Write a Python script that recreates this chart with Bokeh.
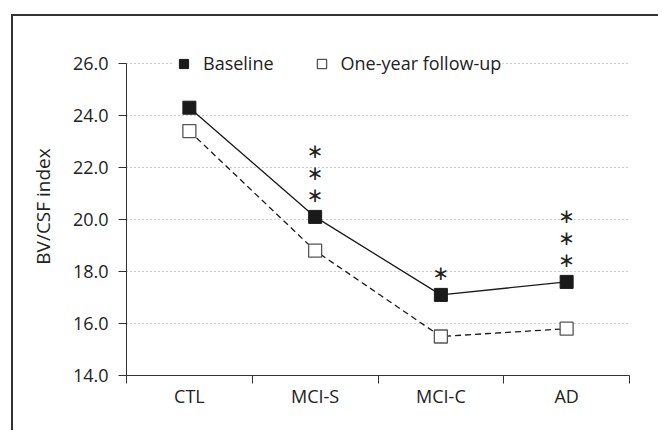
from bokeh.plotting import figure
from bokeh.models import (ColumnDataSource, FixedTicker, PrintfTickFormatter,
                          Legend, LegendItem, Range1d)
from bokeh.core.properties import value
from bokeh.embed import file_html
from bokeh.resources import INLINE

categories = ["CTL", "MCI-S", "MCI-C", "AD"]
baseline = [24.3, 20.1, 17.1, 17.6]
followup = [23.4, 18.8, 15.5, 15.8]
significance = [0, 3, 1, 3]  # number of asterisks above baseline marker
y_ticks = [14, 16, 18, 20, 22, 24, 26]

FONT = "Open Sans"
TXT = "#222222"
xs = [i + 0.5 for i in range(len(categories))]

p = figure(width=647, height=416, output_backend="svg", toolbar_location=None,
           x_range=Range1d(0, len(categories)), y_range=Range1d(14, 27),
           min_border_left=113, min_border_right=31, min_border_top=21,
           min_border_bottom=57)
p.outline_line_color = None
p.background_fill_color = "white"
p.border_fill_color = "white"
p.margin = (14, 0, 0, 11)
p.styles = {"border-left": "2px solid #333333", "border-top": "2px solid #333333"}

# axes
p.xaxis.ticker = FixedTicker(ticks=xs, minor_ticks=list(range(len(categories) + 1)))
p.xaxis.major_label_overrides = {x: c for x, c in zip(xs, categories)}
p.xaxis.major_tick_out = 0
p.xaxis.major_tick_in = 0
p.xaxis.minor_tick_out = 8
p.xaxis.minor_tick_in = 0
p.xaxis.minor_tick_line_color = "#333333"
p.xaxis.axis_line_color = "#333333"
p.xaxis.major_label_text_font = FONT
p.xaxis.major_label_text_font_size = "18px"
p.xaxis.major_label_text_color = TXT
p.xaxis.major_label_standoff = 0

p.yaxis.ticker = FixedTicker(ticks=y_ticks, minor_ticks=[])
p.yaxis.bounds = (14, 26)
p.yaxis.formatter = PrintfTickFormatter(format="%.1f")
p.yaxis.major_tick_out = 8
p.yaxis.major_tick_in = 0
p.yaxis.major_tick_line_color = "#333333"
p.yaxis.axis_line_color = "#333333"
p.yaxis.major_label_text_font = FONT
p.yaxis.major_label_text_font_size = "18px"
p.yaxis.major_label_text_color = TXT
p.yaxis.major_label_standoff = 10
p.yaxis.axis_label = "BV/CSF index"
p.yaxis.axis_label_text_font = FONT
p.yaxis.axis_label_text_font_size = "19px"
p.yaxis.axis_label_text_font_style = "normal"
p.yaxis.axis_label_text_color = TXT
p.yaxis.axis_label_standoff = 14

p.xgrid.grid_line_color = None
p.ygrid.grid_line_color = "#999999"
p.ygrid.grid_line_dash = "1 3"
p.ygrid.grid_line_width = 1

src = ColumnDataSource(dict(x=xs, base=baseline, follow=followup))

p.line("x", "base", source=src, line_color="#1a1a1a", line_width=1.3)
p.line("x", "follow", source=src, line_color="#1a1a1a", line_width=1.3,
       line_dash="6 4")
m2 = p.scatter("x", "follow", source=src, marker="square", size=13,
               fill_color="white", line_color="#555555", line_width=1.3)
m1 = p.scatter("x", "base", source=src, marker="square", size=13,
               fill_color="#1a1a1a", line_color="#1a1a1a", line_width=1)

# significance asterisks
sx, sy, soff = [], [], []
for x, b, n in zip(xs, baseline, significance):
    for k in range(n):
        sx.append(x)
        sy.append(b)
        soff.append(-22 - 22 * k)
star_src = ColumnDataSource(dict(x=sx, y=sy, off=soff))
p.text("x", "y", text=value("\u2217"), source=star_src, y_offset="off",
       text_align="center", text_baseline="middle", text_font=value("DejaVu Sans"),
       text_font_size="20px", text_color=TXT)

legend = Legend(items=[LegendItem(label="Baseline", renderers=[m1]),
                       LegendItem(label="One-year follow-up", renderers=[m2])],
                orientation="horizontal", location=(46, 300),
                background_fill_color="white", background_fill_alpha=1,
                border_line_color=None, padding=6, margin=0, spacing=36,
                label_text_font=FONT, label_text_font_size="18px",
                label_text_color=TXT, glyph_width=23, glyph_height=23,
                label_standoff=8)
p.add_layout(legend)

open("out.html", "w").write(file_html(p, INLINE))
